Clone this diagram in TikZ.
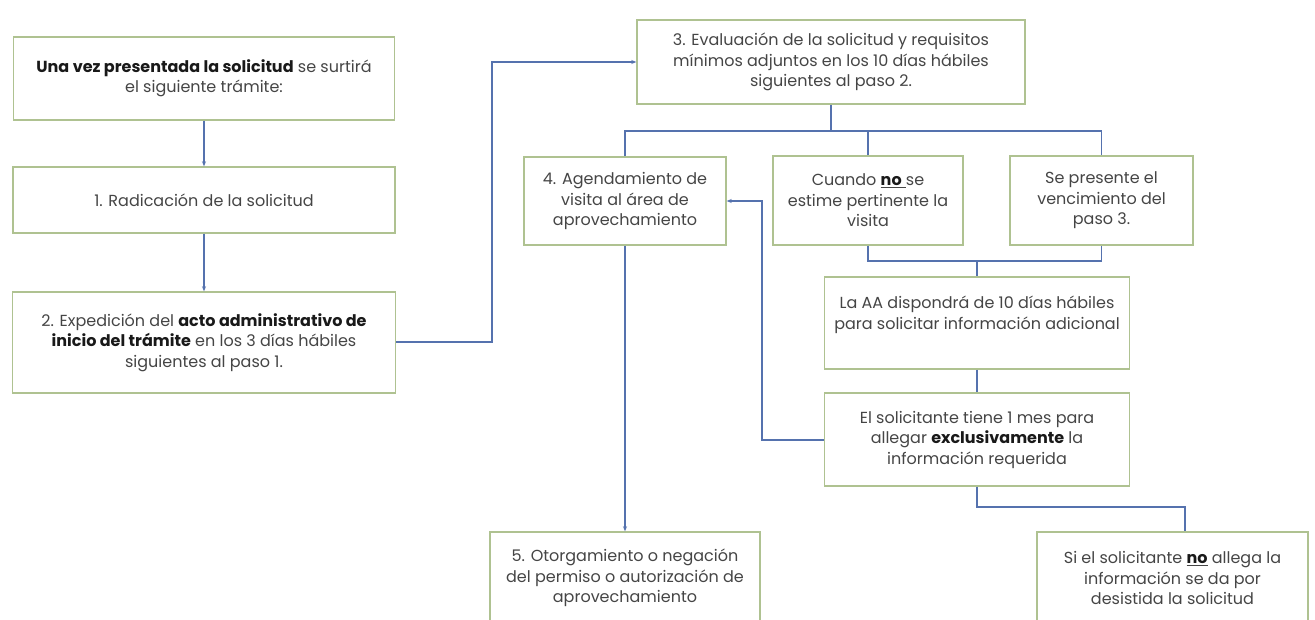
\documentclass[tikz,border=0pt]{standalone}
\usepackage{fontspec}
\setmainfont{Poppins}
\usetikzlibrary{arrows.meta}
\definecolor{boxline}{HTML}{AFC291}
\definecolor{conn}{HTML}{5572AE}
\definecolor{txt}{HTML}{454545}
\tikzset{
  flowbox/.style={draw=boxline, line width=1.4pt, fill=white, align=center,
    text=txt, inner sep=2pt,
    font=\fontsize{16}{20.5}\selectfont},
  link/.style={draw=conn, line width=1.2pt},
  arr/.style={link, -{Stealth[length=5pt,width=4pt]}},
}
\newcommand{\bb}[1]{\textbf{\color{black!90}#1}}
\begin{document}
\begin{tikzpicture}[x=1pt,y=-1pt]
\useasboundingbox (0,0) rectangle (1315,620);
\clip (0,0) rectangle (1315,620);
\fill[white] (0,0) rectangle (1315,620);

\node[flowbox, minimum width=381pt, minimum height=83pt] (A) at (204,78.5)
  {\bb{Una vez presentada la solicitud} se surtirá\\el siguiente trámite:};
\node[flowbox, minimum width=382pt, minimum height=66pt] (B1) at (204,200)
  {1. Radicación de la solicitud};
\node[flowbox, minimum width=383pt, minimum height=101pt] (B2) at (204,342.5)
  {2. Expedición del \bb{acto administrativo de}\\\bb{inicio del trámite} en los 3 días hábiles\\siguientes al paso 1.};
\node[flowbox, minimum width=388pt, minimum height=84pt] (B3) at (831,62)
  {3. Evaluación de la solicitud y requisitos\\mínimos adjuntos en los 10 días hábiles\\siguientes al paso 2.};
\node[flowbox, minimum width=202pt, minimum height=88pt] (B4) at (625,201)
  {4. Agendamiento de\\visita al área de\\aprovechamiento};
\node[flowbox, minimum width=190pt, minimum height=89pt] (Bno) at (868,200.5)
  {Cuando \underline{\bb{no}\ }se\\estime pertinente la\\visita};
\node[flowbox, minimum width=183pt, minimum height=89pt] (Bse) at (1101.5,200.5)
  {Se presente el\\vencimiento del\\paso 3.};
\node[flowbox, minimum width=305pt, minimum height=92pt] (BAA) at (977,323)
  {La AA dispondrá de 10 días hábiles\\para solicitar información adicional\\~};
\node[flowbox, minimum width=305pt, minimum height=93pt] (Bsol) at (977,439.5)
  {El solicitante tiene 1 mes para\\allegar \bb{exclusivamente} la\\información requerida};
\node[flowbox, minimum width=270pt, minimum height=92pt] (B5) at (625,578)
  {5. Otorgamiento o negación\\del permiso o autorización de\\aprovechamiento};
\node[flowbox, minimum width=271pt, minimum height=92pt] (Bsi) at (1172.5,578)
  {Si el solicitante \underline{\bb{no}} allega la\\información se da por\\desistida la solicitud};

\coordinate (c23) at (492,342);
\coordinate (bus1) at (831,131);
\coordinate (bus2) at (977,261);
\coordinate (c4) at (762,440);
\coordinate (csi) at (1185,507);

\draw[arr] (A.south) -- (B1.north);
\draw[arr] (B1.south) -- (B2.north);
\draw[arr] (B2.east |- c23) -- (c23) |- (B3.west);
\draw[link] (B3.south) -- (bus1);
\draw[link] (B4.north) |- (bus1) -| (Bse.north);
\draw[link] (Bno.north) -- (Bno.north |- bus1);
\draw[link] (Bno.south) |- (bus2) -| (Bse.south);
\draw[link] (bus2) -- (BAA.north);
\draw[link] (BAA.south) -- (Bsol.north);
\draw[arr] (Bsol.west |- c4) -- (c4) |- (B4.east);
\draw[arr] (B4.south) -- (B5.north);
\draw[link] (Bsol.south) |- (csi) -- (csi |- Bsi.north);
\end{tikzpicture}
\end{document}
